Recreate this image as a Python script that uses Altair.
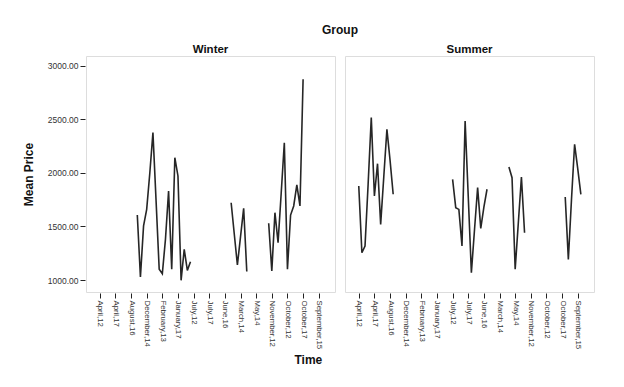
import json
import altair as alt
import pandas as pd

# ---- data ----
tick_labels = ["April,12", "April,17", "August,16", "December,14", "February,13",
               "January,17", "July,12", "July,17", "June,16", "March,14",
               "May,14", "November,12", "October,12", "October,17", "September,15"]
tick_index = list(range(0, 71, 5))

winter_starts = [12, 42, 54]
winter_seg1 = [1607, 1028, 1505, 1660, 2000, 2377, 1740, 1100, 1059, 1380,
               1832, 1100, 2143, 1972, 997, 1287, 1090, 1171]
winter_seg2 = [1722, 1430, 1140, 1405, 1670, 1080]
winter_seg3 = [1530, 1084, 1629, 1349, 1810, 2283, 1100, 1607, 1692, 1888, 1692, 2875]

summer_starts = [0, 30, 48, 66]
summer_seg1 = [1878, 1255, 1318, 1900, 2517, 1785, 2087, 1520, 1965, 2408, 2120, 1801]
summer_seg2 = [1941, 1676, 1660, 1318, 2486, 1780, 1068, 1470, 1863, 1483, 1680, 1848]
summer_seg3 = [2056, 1956, 1100, 1530, 1963, 1442]
summer_seg4 = [1776, 1193, 1750, 2268, 2040, 1801]

groups = {
    "Winter": (winter_starts, [winter_seg1, winter_seg2, winter_seg3]),
    "Summer": (summer_starts, [summer_seg1, summer_seg2, summer_seg3, summer_seg4]),
}

rows = []
for g, (starts, segs) in groups.items():
    for k, (s, vals) in enumerate(zip(starts, segs)):
        for i, v in enumerate(vals):
            rows.append({"group": g, "seg": f"{g}{k}", "idx": s + i, "price": v})
df = pd.DataFrame(rows)

label_expr = json.dumps(tick_labels) + "[round(datum.value / 5)]"
FONT = "Liberation Sans"

line = alt.Chart(df).mark_line(color="#262626", strokeWidth=1.6).encode(
    x=alt.X("idx:Q",
            scale=alt.Scale(domain=[-4.4, 75.2], nice=False, zero=False),
            axis=alt.Axis(values=tick_index, labelExpr=label_expr, labelAngle=90,
                          labelAlign="left", labelBaseline="middle",
                          title=None, grid=False, domain=False,
                          tickColor="#222", tickSize=5, labelPadding=2,
                          labelFontSize=7.8, labelColor="#333", labelFont=FONT)),
    y=alt.Y("price:Q",
            scale=alt.Scale(domain=[888, 3093], nice=False, zero=False),
            axis=alt.Axis(values=[1000, 1500, 2000, 2500, 3000], format=".2f",
                          title="Mean Price", grid=False, domain=False,
                          tickColor="#222", tickSize=5, labelPadding=2,
                          labelFontSize=8.5, labelColor="#333", labelFont=FONT,
                          titleFont=FONT, titleFontSize=12, titleFontWeight="bold",
                          titleColor="#111", titlePadding=12)),
    detail="seg:N",
).properties(width=249, height=236)

chart = line.facet(
    column=alt.Column("group:N", sort=["Winter", "Summer"], title="Group",
                      header=alt.Header(titleFont=FONT, titleFontSize=12,
                                        titleFontWeight="bold", titleColor="#111",
                                        titlePadding=-4,
                                        labelFont=FONT, labelFontSize=11.5,
                                        labelFontWeight="bold", labelColor="#111",
                                        labelPadding=0)),
    spacing=8,
).properties(
    title=alt.TitleParams("Time", orient="bottom", anchor="middle", font=FONT,
                          fontSize=12, fontWeight="bold", color="#111", offset=6),
    padding={"left": 22, "top": 24, "right": 10, "bottom": 5},
).configure_view(
    fill="#F0F0F0", stroke="#555", strokeWidth=1
).configure(background="white")

chart.save("out.html", embed_options={"renderer": "svg", "actions": False})
